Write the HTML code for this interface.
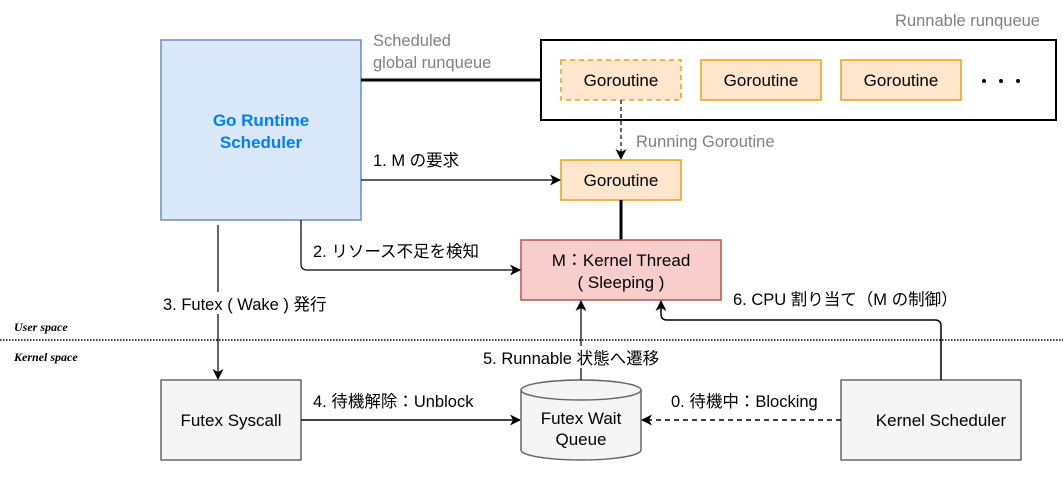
<!DOCTYPE html>
<html><head><meta charset="utf-8"><style>
html,body{margin:0;padding:0;background:#fff;}
svg text{font-family:"Liberation Sans","Noto Sans CJK JP",sans-serif;}
</style></head><body>
<svg width="1063" height="480" viewBox="0 0 1063 480" xmlns="http://www.w3.org/2000/svg">
<defs>
<marker id="a" markerWidth="11" markerHeight="11" refX="10" refY="5.5" orient="auto" markerUnits="userSpaceOnUse"><path d="M0,0 L11,5.5 L0,11 L3,5.5 Z" fill="#000"/></marker>
</defs>
<rect width="1063" height="480" fill="#fff"/>
<rect x="161" y="40" width="200" height="180" fill="#dae8fc" stroke="#6c8ebf" stroke-width="1.5"/>
<text x="261" y="126" text-anchor="middle" font-size="17" font-weight="bold" fill="#007fff">Go Runtime</text>
<text x="261" y="148" text-anchor="middle" font-size="17" font-weight="bold" fill="#007fff">Scheduler</text>
<text x="1040" y="26" text-anchor="end" font-size="16.5" fill="#808080">Runnable runqueue</text>
<rect x="541" y="40" width="515" height="80" fill="#fff" stroke="#000" stroke-width="2"/>
<rect x="561" y="60" width="120" height="40" fill="#ffe6cc" stroke="#e6a317" stroke-width="1.5" stroke-dasharray="5,4"/>
<text x="621" y="86" text-anchor="middle" font-size="17">Goroutine</text>
<rect x="701" y="60" width="120" height="40" fill="#ffe6cc" stroke="#e6a317" stroke-width="1.5"/>
<text x="761" y="86" text-anchor="middle" font-size="17">Goroutine</text>
<rect x="841" y="60" width="120" height="40" fill="#ffe6cc" stroke="#e6a317" stroke-width="1.5"/>
<text x="901" y="86" text-anchor="middle" font-size="17">Goroutine</text>
<circle cx="984" cy="81" r="2" fill="#000"/><circle cx="1001" cy="81" r="2" fill="#000"/><circle cx="1018" cy="81" r="2" fill="#000"/>
<line x1="361" y1="80" x2="541" y2="80" stroke="#000" stroke-width="3"/>
<text x="373" y="46" font-size="16.5" fill="#808080">Scheduled</text>
<text x="373" y="68" font-size="16.5" fill="#808080">global runqueue</text>
<line x1="621" y1="100" x2="621" y2="159" stroke="#000" stroke-width="1.2" stroke-dasharray="4,3" marker-end="url(#a)"/>
<text x="636" y="147" font-size="16.5" fill="#808080">Running Goroutine</text>
<rect x="561" y="160" width="120" height="40" fill="#ffe6cc" stroke="#e6a317" stroke-width="1.5"/>
<text x="621" y="186" text-anchor="middle" font-size="17">Goroutine</text>
<line x1="361" y1="180" x2="560" y2="180" stroke="#000" stroke-width="1.2" marker-end="url(#a)"/>
<text x="373" y="166" font-size="16.5">1. M の要求</text>
<line x1="621" y1="200" x2="621" y2="240" stroke="#000" stroke-width="3"/>
<rect x="521" y="240" width="200" height="60" fill="#f8cecc" stroke="#b85450" stroke-width="1.5"/>
<text x="621" y="266" text-anchor="middle" font-size="17">M：Kernel Thread</text>
<text x="621" y="288" text-anchor="middle" font-size="17">( Sleeping )</text>
<path d="M301,220 V264 Q301,270 307,270 H520" fill="none" stroke="#000" stroke-width="1.2" marker-end="url(#a)"/>
<text x="313" y="257" font-size="16.5">2. リソース不足を検知</text>
<line x1="218" y1="225" x2="218" y2="379" stroke="#000" stroke-width="1.2" marker-end="url(#a)"/>
<rect x="160" y="292" width="190" height="22" fill="#fff"/>
<text x="163" y="310" font-size="16.5">3. Futex ( Wake ) 発行</text>
<line x1="0" y1="340" x2="1063" y2="340" stroke="#000" stroke-width="1.5" stroke-dasharray="1.5,1.5"/>
<text x="14" y="331" font-size="12" font-style="italic" font-weight="bold" style="font-family:'Liberation Serif',serif">User space</text>
<text x="14" y="361" font-size="12" font-style="italic" font-weight="bold" style="font-family:'Liberation Serif',serif">Kernel space</text>
<rect x="161" y="380" width="140" height="80" fill="#f5f5f5" stroke="#666" stroke-width="1.5"/>
<text x="231" y="426" text-anchor="middle" font-size="17">Futex Syscall</text>
<line x1="301" y1="420" x2="520" y2="420" stroke="#000" stroke-width="1.5" marker-end="url(#a)"/>
<text x="313" y="407" font-size="16.5">4. 待機解除：Unblock</text>
<path d="M521,390 V450 A60,10 0 0 0 641,450 V390 A60,10 0 0 0 521,390 Z" fill="#f5f5f5" stroke="#666" stroke-width="1.5"/>
<path d="M521,390 A60,10 0 0 0 641,390" fill="none" stroke="#666" stroke-width="1.5"/>
<text x="581" y="424" text-anchor="middle" font-size="17">Futex Wait</text>
<text x="581" y="445" text-anchor="middle" font-size="17">Queue</text>
<line x1="581" y1="380" x2="581" y2="301" stroke="#000" stroke-width="1.2" marker-end="url(#a)"/>
<rect x="480" y="346" width="212" height="22" fill="#fff"/>
<text x="483" y="364" font-size="16.5">5. Runnable 状態へ遷移</text>
<rect x="841" y="380" width="180" height="80" fill="#f5f5f5" stroke="#666" stroke-width="1.5"/>
<text x="941" y="426" text-anchor="middle" font-size="17">Kernel Scheduler</text>
<line x1="841" y1="420" x2="642" y2="420" stroke="#000" stroke-width="1.5" stroke-dasharray="5,4" marker-end="url(#a)"/>
<text x="671" y="407" font-size="16.5">0. 待機中：Blocking</text>
<path d="M941,380 V326 Q941,320 935,320 H667 Q661,320 661,314 V301" fill="none" stroke="#000" stroke-width="1.5" marker-end="url(#a)"/>
<text x="733" y="305" font-size="16.5">6. CPU 割り当て（M の制御）</text>
</svg>
</body></html>
